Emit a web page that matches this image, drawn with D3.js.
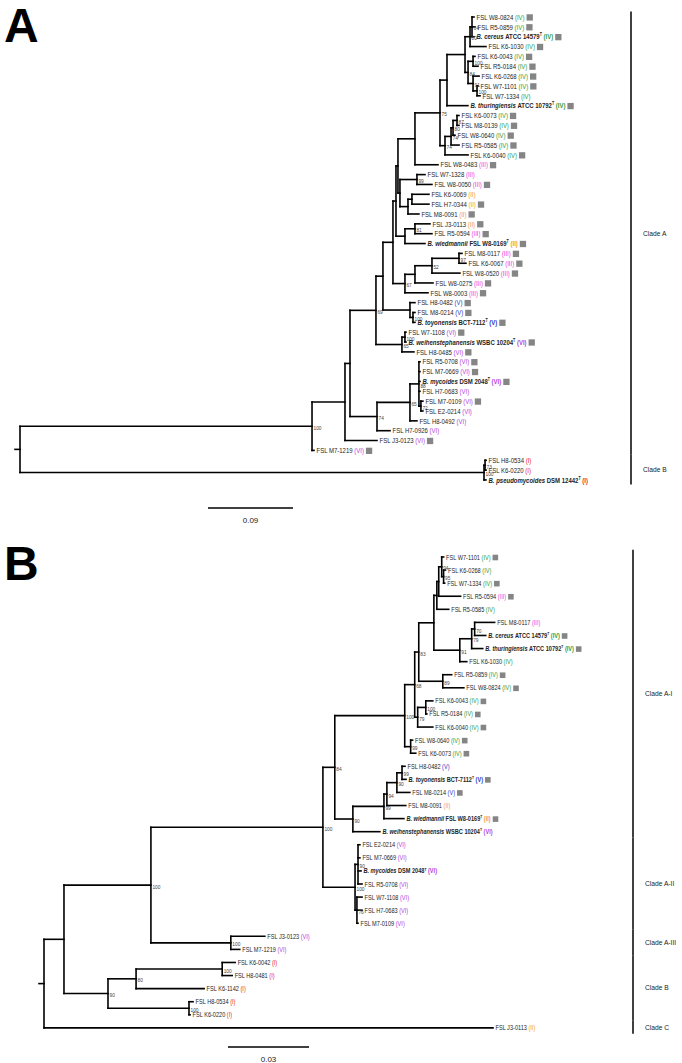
<!DOCTYPE html>
<html><head><meta charset="utf-8">
<script src="https://cdn.jsdelivr.net/npm/d3@7"></script>
<style>body{margin:0;background:#fff}svg{display:block;font-family:"Liberation Sans",Arial,sans-serif}</style>
</head><body>
<svg id="c" width="682" height="1063"></svg>
<script>
// ---------------- DATA: panel A ----------------
const leavesA = ["FSL W8-0824","FSL R5-0859","B. cereus|ATCC 14579","FSL K6-1030","FSL K6-0043","FSL R5-0184","FSL K6-0268","FSL W7-1101","FSL W7-1334","B. thuringiensis|ATCC 10792","FSL K6-0073","FSL M8-0139","FSL W8-0640","FSL R5-0585","FSL K6-0040","FSL W8-0483","FSL W7-1328","FSL W8-0050","FSL K6-0069","FSL H7-0344","FSL M8-0091","FSL J3-0113","FSL R5-0594","B. wiedmannii|FSL W8-0169","FSL M8-0117","FSL K6-0067","FSL W8-0520","FSL W8-0275","FSL W8-0003","FSL H8-0482","FSL M8-0214","B. toyonensis|BCT-7112","FSL W7-1108","B. weihenstephanensis|WSBC 10204","FSL H8-0485","FSL R5-0708","FSL M7-0669","B. mycoides|DSM 2048","FSL H7-0683","FSL M7-0109","FSL E2-0214","FSL H8-0492","FSL H7-0926","FSL J3-0123","FSL M7-1219","FSL H8-0534","FSL K6-0220","B. pseudomycoides|DSM 12442"];
const groupsA = ["IV","IV","IV","IV","IV","IV","IV","IV","IV","IV","IV","IV","IV","IV","IV","III","III","III","II","II","II","II","III","II","III","III","III","III","III","V","V","V","VI","VI","VI","VI","VI","VI","VI","VI","VI","VI","VI","VI","VI","I","I","I"];
const markedA = [1,1,1,1,1,1,1,1,0,1,1,1,1,1,1,1,0,1,0,1,1,1,1,1,1,1,1,1,1,1,1,1,1,1,1,1,1,1,0,1,0,0,0,1,1,0,0,0];
// [node, parent, branch length, bootstrap]
const treeA = [
["rA",null,0,""],
["a_CA","rA",0.3092,"100"],
["a_N1","a_CA",0.0349,""],
["a_N2","a_N1",0.0053,""],
["a_N3","a_N2",0.0275,"69"],
["a_N4","a_N3",0.0074,""],
["a_NX","a_N4",0.0106,""],
["a_NY","a_NX",0.0032,""],
["a_NYa","a_NY",0.0021,""],
["a_N483","a_NYa",0.0180,""],
["a_N75","a_N483",0.0265,"75"],
["a_Nth","a_N75",0.0074,""],
["a_Nc","a_Nth",0.0191,""],
["a_Nc1","a_Nc",0.0053,"80"],
["a_Nc1a","a_Nc1",0.0021,"64"],
["FSL W8-0824","a_Nc1a",0.0021,""],
["FSL R5-0859","a_Nc1a",0.0032,""],
["B. cereus|ATCC 14579","a_Nc1a",0.0021,""],
["FSL K6-1030","a_Nc1",0.0169,""],
["a_Nc23","a_Nc",0.0032,"84"],
["a_Nc2","a_Nc23",0.0053,"100"],
["FSL K6-0043","a_Nc2",0.0021,""],
["FSL R5-0184","a_Nc2",0.0053,""],
["a_Nc3","a_Nc23",0.0053,"91"],
["FSL K6-0268","a_Nc3",0.0064,""],
["a_Nc3a","a_Nc3",0.0042,"100"],
["FSL W7-1101","a_Nc3a",0.0011,""],
["FSL W7-1334","a_Nc3a",0.0032,""],
["B. thuringiensis|ATCC 10792","a_Nth",0.0222,""],
["a_N74b","a_N75",0.0053,"74"],
["a_N74a","a_N74b",0.0064,"74"],
["a_N80","a_N74a",0.0021,"80"],
["a_N87","a_N80",0.0042,"87"],
["FSL K6-0073","a_N87",0.0021,""],
["FSL M8-0139","a_N87",0.0021,""],
["FSL W8-0640","a_N80",0.0021,""],
["FSL R5-0585","a_N74a",0.0085,""],
["FSL K6-0040","a_N74b",0.0244,""],
["FSL W8-0483","a_N483",0.0244,""],
["a_N400","a_NYa",0.0021,""],
["a_N99","a_N400",0.0180,"99"],
["FSL W7-1328","a_N99",0.0085,""],
["FSL W8-0050","a_N99",0.0159,""],
["a_Nk","a_N400",0.0085,""],
["a_Nkh","a_Nk",0.0042,""],
["FSL K6-0069","a_Nkh",0.0180,""],
["FSL H7-0344","a_Nkh",0.0180,""],
["FSL M8-0091","a_Nk",0.0116,""],
["a_Nwd","a_NY",0.0095,""],
["a_N81","a_Nwd",0.0106,"81"],
["FSL J3-0113","a_N81",0.0159,""],
["FSL R5-0594","a_N81",0.0180,""],
["B. wiedmannii|FSL W8-0169","a_Nwd",0.0212,""],
["a_N67","a_NX",0.0127,"67"],
["a_Na","a_N67",0.0106,""],
["a_N52","a_Na",0.0180,"52"],
["a_N97","a_N52",0.0286,"97"],
["FSL M8-0117","a_N97",0.0032,""],
["FSL K6-0067","a_N97",0.0074,""],
["FSL W8-0520","a_N52",0.0296,""],
["FSL W8-0275","a_Na",0.0191,""],
["FSL W8-0003","a_N67",0.0244,""],
["a_NV","a_N4",0.0286,""],
["FSL H8-0482","a_NV",0.0053,""],
["a_Nv2","a_NV",0.0032,"100"],
["FSL M8-0214","a_Nv2",0.0021,""],
["B. toyonensis|BCT-7112","a_Nv2",0.0021,""],
["a_Nweih","a_N3",0.0275,"65"],
["a_Nw2","a_Nweih",0.0032,"100"],
["FSL W7-1108","a_Nw2",0.0011,""],
["B. weihenstephanensis|WSBC 10204","a_Nw2",0.0011,""],
["FSL H8-0485","a_Nweih",0.0127,""],
["a_NVI","a_N2",0.0286,"74"],
["a_Nmyc","a_NVI",0.0349,"65"],
["a_Nmyc2","a_Nmyc",0.0095,"88"],
["FSL R5-0708","a_Nmyc2",0.0011,""],
["FSL M7-0669","a_Nmyc2",0.0011,""],
["B. mycoides|DSM 2048","a_Nmyc2",0.0011,""],
["FSL H7-0683","a_Nmyc2",0.0011,""],
["a_Nsub","a_Nmyc2",0.0021,"72"],
["FSL M7-0109","a_Nsub",0.0021,""],
["FSL E2-0214","a_Nsub",0.0021,""],
["FSL H8-0492","a_Nmyc",0.0074,""],
["FSL H7-0926","a_NVI",0.0138,""],
["FSL J3-0123","a_N1",0.0339,""],
["FSL M7-1219","a_CA",0.0021,""],
["a_NB","rA",0.4913,"100"],
["a_NB2","a_NB",0.0011,"73"],
["FSL H8-0534","a_NB2",0.0011,""],
["FSL K6-0220","a_NB2",0.0011,""],
["B. pseudomycoides|DSM 12442","a_NB",0.0021,""]
];
const cladesA = [["Clade A",0,44],["Clade B",45,47]];
const scaleA = 0.09;

// ---------------- DATA: panel B ----------------
const leavesB = ["FSL W7-1101","FSL K6-0268","FSL W7-1334","FSL R5-0594","FSL R5-0585","FSL M8-0117","B. cereus|ATCC 14579","B. thuringiensis|ATCC 10792","FSL K6-1030","FSL R5-0859","FSL W8-0824","FSL K6-0043","FSL R5-0184","FSL K6-0040","FSL W8-0640","FSL K6-0073","FSL H8-0482","B. toyonensis|BCT-7112","FSL M8-0214","FSL M8-0091","B. wiedmannii|FSL W8-0169","B. weihenstephanensis|WSBC 10204","FSL E2-0214","FSL M7-0669","B. mycoides|DSM 2048","FSL R5-0708","FSL W7-1108","FSL H7-0683","FSL M7-0109","FSL J3-0123","FSL M7-1219","FSL K6-0042","FSL H8-0481","FSL K6-1142","FSL H8-0534","FSL K6-0220","FSL J3-0113"];
const groupsB = ["IV","IV","IV","III","IV","III","IV","IV","IV","IV","IV","IV","IV","IV","IV","IV","V","V","V","II","II","VI","VI","VI","VI","VI","VI","VI","VI","VI","VI","I","I","I","I","I","II"];
const markedB = [1,0,1,1,0,0,1,1,0,1,1,1,1,1,1,1,0,1,1,0,1,0,0,0,0,0,0,0,0,0,0,0,0,0,0,0,0];
const treeB = [
["rB",null,0,""],
["b_AB","rB",0.0074,""],
["b_Aall","b_AB",0.0322,"100"],
["b_A","b_Aall",0.0637,"100"],
["b_94","b_A",0.0044,"84"],
["b_100b","b_94",0.0259,"100"],
["b_68","b_100b",0.0037,"68"],
["b_83","b_68",0.0015,"83"],
["b_435","b_83",0.0056,""],
["b_a2","b_435",0.0011,""],
["b_439","b_a2",0.0007,""],
["b_94b","b_439",0.0011,"94"],
["FSL W7-1101","b_94b",0.0007,""],
["b_95","b_94b",0.0007,"95"],
["FSL K6-0268","b_95",0.0007,""],
["FSL W7-1334","b_95",0.0004,""],
["FSL R5-0594","b_439",0.0081,""],
["FSL R5-0585","b_a2",0.0044,""],
["b_91","b_435",0.0096,"91"],
["b_79c","b_91",0.0044,"79"],
["b_70","b_79c",0.0011,"70"],
["FSL M8-0117","b_70",0.0074,""],
["B. cereus|ATCC 14579","b_70",0.0041,""],
["B. thuringiensis|ATCC 10792","b_79c",0.0041,""],
["FSL K6-1030","b_91",0.0026,""],
["b_89","b_83",0.0089,"89"],
["FSL R5-0859","b_89",0.0033,""],
["FSL W8-0824","b_89",0.0078,""],
["b_79b","b_68",0.0011,"79"],
["b_100k","b_79b",0.0030,"100"],
["FSL K6-0043","b_100k",0.0026,""],
["FSL R5-0184","b_100k",0.0004,""],
["FSL K6-0040","b_79b",0.0056,""],
["b_99b","b_100b",0.0022,"99"],
["FSL W8-0640","b_99b",0.0007,""],
["FSL K6-0073","b_99b",0.0019,""],
["b_90","b_94",0.0067,"90"],
["b_99w","b_90",0.0115,"99"],
["b_94e","b_99w",0.0011,"94"],
["b_90v","b_94e",0.0037,"90"],
["b_99v","b_90v",0.0019,"99"],
["FSL H8-0482","b_99v",0.0011,""],
["B. toyonensis|BCT-7112","b_99v",0.0015,""],
["FSL M8-0214","b_90v",0.0048,""],
["FSL M8-0091","b_94e",0.0070,""],
["B. wiedmannii|FSL W8-0169","b_99w",0.0074,""],
["B. weihenstephanensis|WSBC 10204","b_90",0.0100,""],
["b_myc","b_A",0.0119,"100"],
["b_90m","b_myc",0.0011,"90"],
["FSL E2-0214","b_90m",0.0007,""],
["FSL M7-0669","b_90m",0.0007,""],
["B. mycoides|DSM 2048","b_90m",0.0011,""],
["FSL R5-0708","b_90m",0.0015,""],
["b_76","b_myc",0.0007,"76"],
["FSL W7-1108","b_76",0.0019,""],
["FSL H7-0683","b_76",0.0019,""],
["FSL M7-0109","b_76",0.0004,""],
["b_AIII","b_Aall",0.0296,"100"],
["FSL J3-0123","b_AIII",0.0126,""],
["FSL M7-1219","b_AIII",0.0033,""],
["b_Bb","b_AB",0.0163,"90"],
["b_80","b_Bb",0.0104,"80"],
["b_100d","b_80",0.0319,"100"],
["FSL K6-0042","b_100d",0.0048,""],
["FSL H8-0481","b_100d",0.0037,""],
["FSL K6-1142","b_80",0.0252,""],
["b_100e","b_Bb",0.0300,"100"],
["FSL H8-0534","b_100e",0.0015,""],
["FSL K6-0220","b_100e",0.0004,""],
["FSL J3-0113","rB",0.1663,""]
];
const cladesB = [["Clade A-I",0,21],["Clade A-II",22,28],["Clade A-III",29,30],["Clade B",31,35],["Clade C",36,36]];
const scaleB = 0.03;

const groupColors = {I:"#e8282a",II:"#f29b30",III:"#f03ad8",IV:"#2f9a3a",V:"#2b36c6",VI:"#b63ee0"};

// ---------------- DRAW ----------------
const svg = d3.select("#c");
const SX = 0.8;

function drawPanel(cfg){
  const g = svg.append("g");
  const root = d3.stratify().id(d=>d[0]).parentId(d=>d[1])(cfg.tree);
  root.eachBefore(n=>{ n.dist = n.parent ? n.parent.dist + n.data[2] : 0; });
  const x = d3.scaleLinear().domain([0, cfg.scaleVal]).range([cfg.x0, cfg.x0 + cfg.scalePx]);
  const y = d3.scaleLinear().domain([0, cfg.leaves.length-1]).range([cfg.y0, cfg.y0 + cfg.step*(cfg.leaves.length-1)]);
  const idx = new Map(cfg.leaves.map((l,i)=>[l,i]));
  root.eachAfter(n=>{
    n.px = x(n.dist);
    n.py = n.children ? (n.children[0].py + n.children[n.children.length-1].py)/2 : y(idx.get(n.id));
  });
  const lines = g.append("g").attr("stroke","#000").attr("stroke-width",1.6).attr("stroke-linecap","square").attr("fill","none");
  root.each(n=>{
    if(n.children){
      lines.append("line").attr("x1",n.px).attr("x2",n.px).attr("y1",n.children[0].py).attr("y2",n.children[n.children.length-1].py);
      n.children.forEach(c=>{
        lines.append("line").attr("x1",n.px).attr("x2",c.px).attr("y1",c.py).attr("y2",c.py);
      });
    }
  });
  lines.append("line").attr("x1",root.px-5).attr("x2",root.px).attr("y1",root.py).attr("y2",root.py);
  // bootstrap
  root.each(n=>{
    if(n.children && n.data[3]){
      g.append("text").attr("x",n.px+1.5).attr("y",n.py+3.6).attr("font-size",4.8).attr("fill","#444").text(n.data[3]);
    }
  });
  // leaf labels
  root.leaves().forEach(n=>{
    const i = idx.get(n.id);
    const grp = cfg.groups[i], col = groupColors[grp];
    const lg = g.append("g").attr("transform",`translate(${n.px+2.5},${n.py+cfg.fs*0.36}) scale(${SX},1)`);
    const t = lg.append("text").attr("font-size",cfg.fs).attr("fill","#1e1e1e");
    if(n.id.includes("|")){
      const [it,rest] = n.id.split("|");
      t.append("tspan").attr("font-weight","bold").attr("font-style","italic").text(it+" ");
      t.append("tspan").attr("font-weight","bold").text(rest);
      t.append("tspan").attr("font-weight","bold").attr("font-size",cfg.fs*0.6).attr("dy",-cfg.fs*0.42).text("T");
      t.append("tspan").attr("font-weight","bold").attr("dy",cfg.fs*0.42).attr("fill",col).text(" ("+grp+")");
    } else {
      t.append("tspan").text(n.id+" ");
      t.append("tspan").attr("fill",col).text("("+grp+")");
    }
    if(cfg.marked[i]){
      const w = t.node().getComputedTextLength();
      lg.append("rect").attr("x",w+2/SX).attr("y",-cfg.sq*0.86).attr("width",cfg.sq/SX).attr("height",cfg.sq).attr("fill","#858585");
    }
  });
  // clade bars
  cfg.clades.forEach(([name,a,b])=>{
    const y1 = y(a) - cfg.step*0.55, y2 = y(b) + cfg.step*0.45;
    g.append("line").attr("x1",cfg.barX).attr("x2",cfg.barX).attr("y1",y1).attr("y2",y2).attr("stroke","#000").attr("stroke-width",1.5);
    g.append("text").attr("transform",`translate(${cfg.barX+12},${(y1+y2)/2+2.5}) scale(0.88,1)`).attr("font-size",7.6).attr("fill","#222").text(name);
  });
  // scale bar
  const sw = x(cfg.scaleVal) - x(0);
  g.append("line").attr("x1",cfg.sbX).attr("x2",cfg.sbX+sw).attr("y1",cfg.sbY).attr("y2",cfg.sbY).attr("stroke","#000").attr("stroke-width",1.6);
  g.append("text").attr("x",cfg.sbX+sw/2).attr("y",cfg.sbY+15).attr("text-anchor","middle").attr("font-size",8).attr("fill","#222").text(cfg.scaleVal.toFixed(2));
  // panel letter
  g.append("text").attr("x",cfg.letterX).attr("y",cfg.letterY).attr("font-size",48).attr("font-weight","bold").text(cfg.letter);
}

drawPanel({tree:treeA, leaves:leavesA, groups:groupsA, marked:markedA, clades:cladesA,
  scaleVal:scaleA, scalePx:85, x0:20, y0:17, step:9.85, fs:7.5, sq:6.3,
  barX:631, sbX:208, sbY:508, letter:"A", letterX:4, letterY:42});
drawPanel({tree:treeB, leaves:leavesB, groups:groupsB, marked:markedB, clades:cladesB,
  scaleVal:scaleB, scalePx:81, x0:44, y0:557, step:13.08, fs:7.0, sq:5.6,
  barX:633, sbX:228, sbY:1047, letter:"B", letterX:4, letterY:580});
</script>
</body></html>
